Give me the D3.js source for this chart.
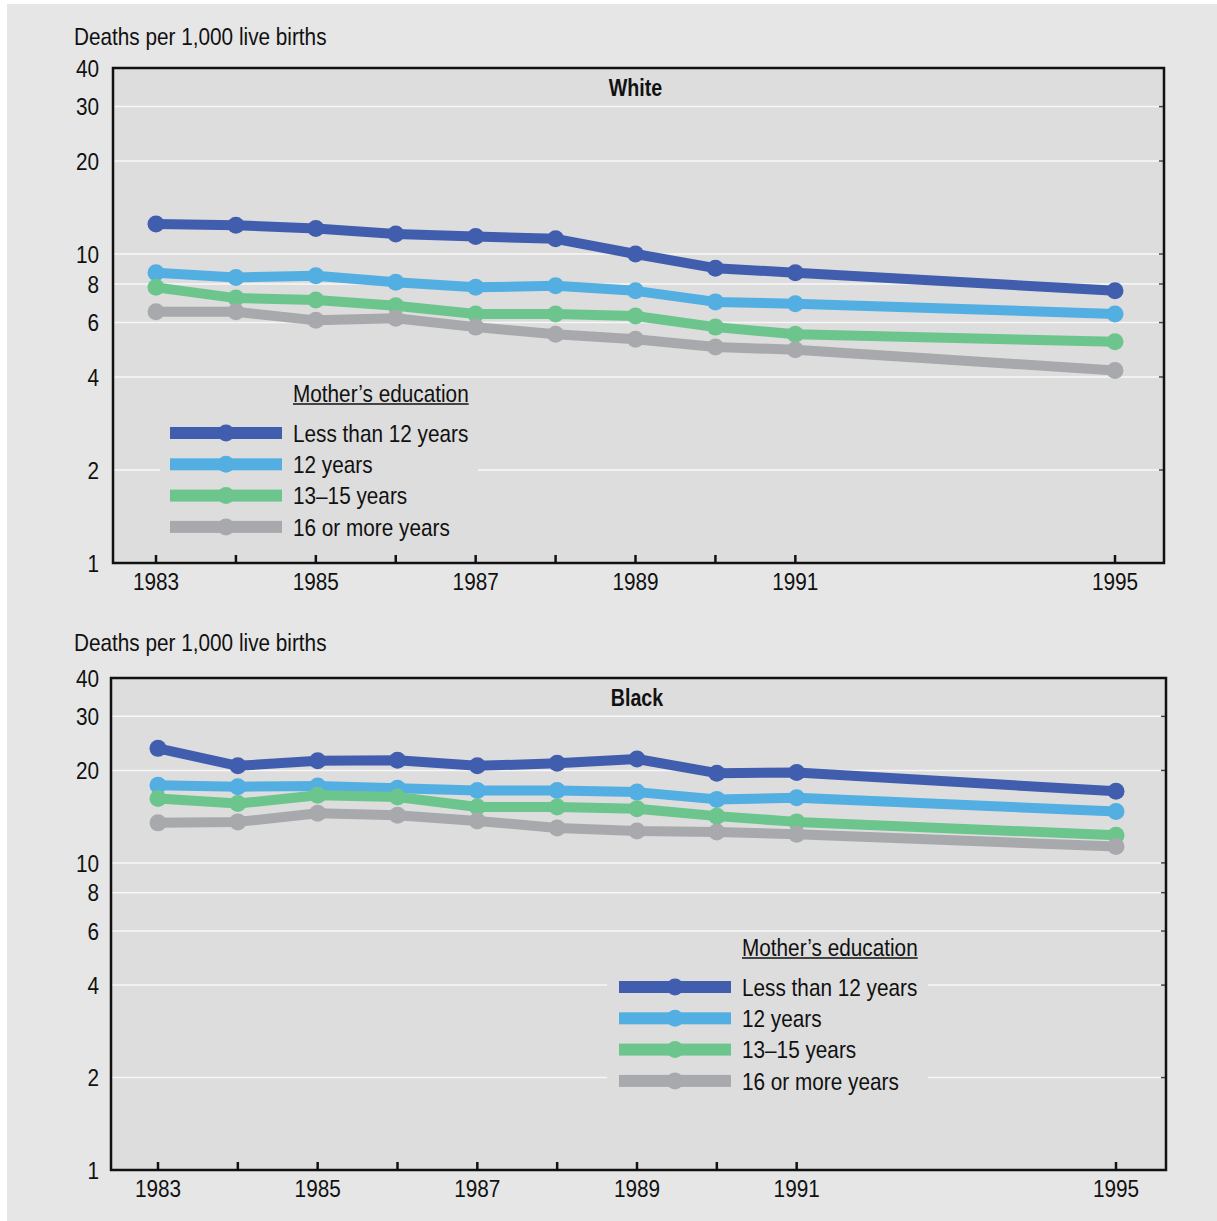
<!DOCTYPE html>
<html>
<head>
<meta charset="utf-8">
<script src="https://cdn.jsdelivr.net/npm/d3@7"></script>
<style>
  html, body { margin: 0; padding: 0; background: #ffffff; }
  svg { display: block; }
  text { font-family: "Liberation Sans", Arial, sans-serif; fill: #111; }
</style>
</head>
<body>
<div id="chart"></div>
<script>
// ---------- DATA ----------
const years = [1983, 1984, 1985, 1986, 1987, 1988, 1989, 1990, 1991, 1995];
const xTickValues = [1983, 1984, 1985, 1986, 1987, 1988, 1989, 1990, 1991, 1995];
const xTickLabels = [1983, 1985, 1987, 1989, 1991, 1995];
const yTickLabels = [1, 2, 4, 6, 8, 10, 20, 30, 40];
const yGridValues = [2, 4, 6, 8, 10, 20, 30];
const yDomain = [1, 40];
const seriesNames = ["Less than 12 years", "12 years", "13\u201315 years", "16 or more years"];
const seriesColors = ["#415DAE", "#53AFE1", "#6DC58E", "#A8A9AC"];
const panelTitles = ["White", "Black"];
const yAxisTitle = "Deaths per 1,000 live births";
const legendTitle = "Mother\u2019s education";

const whiteLess12 = [12.5, 12.4, 12.1, 11.6, 11.4, 11.2, 10.0, 9.0, 8.7, 7.6];
const white12     = [8.7, 8.4, 8.5, 8.1, 7.8, 7.9, 7.6, 7.0, 6.9, 6.4];
const white1315   = [7.8, 7.2, 7.1, 6.8, 6.4, 6.4, 6.3, 5.8, 5.5, 5.2];
const white16     = [6.5, 6.5, 6.1, 6.2, 5.8, 5.5, 5.3, 5.0, 4.9, 4.2];

const blackLess12 = [23.6, 20.7, 21.5, 21.6, 20.7, 21.1, 21.8, 19.6, 19.7, 17.1];
const black12     = [17.9, 17.7, 17.8, 17.5, 17.2, 17.2, 17.0, 16.1, 16.3, 14.7];
const black1315   = [16.2, 15.6, 16.6, 16.4, 15.2, 15.2, 15.0, 14.2, 13.6, 12.3];
const black16     = [13.5, 13.6, 14.5, 14.3, 13.7, 13.0, 12.7, 12.6, 12.4, 11.3];

// ---------- LAYOUT ----------
const W = 1217, H = 1221;
const panels = [
  { title: panelTitles[0], series: [whiteLess12, white12, white1315, white16],
    frame: { l: 113, r: 1164, t: 68, b: 563 }, xr: [156, 1115], yTitleY: 45,
    legend: { x: 170, y: 433, boxX: 160, boxY: 381, boxW: 318, boxH: 164 } },
  { title: panelTitles[1], series: [blackLess12, black12, black1315, black16],
    frame: { l: 111, r: 1166, t: 678, b: 1170 }, xr: [158, 1116], yTitleY: 651,
    legend: { x: 619, y: 987, boxX: 607, boxY: 937, boxW: 321, boxH: 163 } }
];

const FS = 24, SX = 0.865, SXB = 0.82;
const plotBg = "#dddddd";

// condensed text helper: real text, horizontally scaled around its anchor
function addText(g, x, y, str, anchor, opts) {
  opts = opts || {};
  const t = g.append("text")
    .attr("transform", `translate(${x},${y}) scale(${opts.bold ? SXB : SX},1)`)
    .attr("text-anchor", anchor || "start")
    .attr("font-size", FS)
    .attr("dy", opts.dy || null)
    .text(str);
  if (opts.bold) t.attr("font-weight", "bold");
  return t;
}

const svg = d3.select("#chart").append("svg").attr("width", W).attr("height", H);
svg.append("rect").attr("x", 0).attr("y", 0).attr("width", W).attr("height", H).attr("fill", "#ffffff");
svg.append("rect").attr("x", 7).attr("y", 4).attr("width", W - 7).attr("height", H - 4).attr("fill", "#e6e6e6");

panels.forEach(p => {
  const f = p.frame;
  const g = svg.append("g");
  const x = d3.scaleLinear().domain([years[0], years[years.length - 1]]).range(p.xr);
  const y = d3.scaleLog().domain(yDomain).range([f.b, f.t]);

  // plot background
  g.append("rect").attr("x", f.l).attr("y", f.t).attr("width", f.r - f.l).attr("height", f.b - f.t)
    .attr("fill", plotBg);

  // gridlines
  g.selectAll("line.grid").data(yGridValues).join("line")
    .attr("x1", f.l).attr("x2", f.r)
    .attr("y1", d => y(d)).attr("y2", d => y(d))
    .attr("stroke", "#f7f7f7").attr("stroke-width", 1.5);
  // small right-edge ticks
  g.selectAll("line.rtick").data(yGridValues).join("line")
    .attr("x1", f.r - 5).attr("x2", f.r)
    .attr("y1", d => y(d)).attr("y2", d => y(d))
    .attr("stroke", "#444").attr("stroke-width", 1.5);

  // y tick labels
  yTickLabels.forEach(v => addText(g, 99, y(v), v, "end", { dy: "0.36em" }));

  // y axis title
  addText(g, 74, p.yTitleY, yAxisTitle, "start");

  // x ticks (inward)
  g.selectAll("line.xtick").data(xTickValues).join("line")
    .attr("x1", d => x(d)).attr("x2", d => x(d))
    .attr("y1", f.b).attr("y2", f.b - 8)
    .attr("stroke", "#111").attr("stroke-width", 2.5);
  xTickLabels.forEach(v => addText(g, x(v), f.b + 27, v, "middle"));

  // panel title
  addText(g, (p.xr[0] + p.xr[1]) / 2, f.t + 28, p.title, "middle", { bold: true });

  // legend background box (hides gridlines)
  const L = p.legend;
  g.append("rect").attr("x", L.boxX).attr("y", L.boxY).attr("width", L.boxW).attr("height", L.boxH)
    .attr("fill", plotBg);

  // series
  const line = d3.line().x((d, i) => x(years[i])).y(d => y(d));
  p.series.forEach((s, k) => {
    g.append("path").datum(s).attr("d", line)
      .attr("fill", "none").attr("stroke", seriesColors[k]).attr("stroke-width", 10)
      .attr("stroke-linejoin", "round");
    g.selectAll(null).data(s).join("circle")
      .attr("cx", (d, i) => x(years[i])).attr("cy", d => y(d)).attr("r", 8.5)
      .attr("fill", seriesColors[k]);
  });

  // legend
  const lt = addText(g, L.x + 123, L.y - 31, legendTitle, "start");
  const tw = lt.node().getComputedTextLength() * SX;
  g.append("line").attr("x1", L.x + 123).attr("x2", L.x + 123 + tw)
    .attr("y1", L.y - 29).attr("y2", L.y - 29).attr("stroke", "#111").attr("stroke-width", 1.6);

  seriesNames.forEach((name, k) => {
    const yy = L.y + k * 31.3;
    g.append("rect").attr("x", L.x).attr("y", yy - 6).attr("width", 112).attr("height", 12)
      .attr("fill", seriesColors[k]);
    g.append("circle").attr("cx", L.x + 56).attr("cy", yy).attr("r", 8.5).attr("fill", seriesColors[k]);
    addText(g, L.x + 123, yy, name, "start", { dy: "0.36em" });
  });

  // frame
  g.append("path")
    .attr("d", `M${f.l},${f.t}H${f.r}V${f.b}H${f.l}Z`)
    .attr("fill", "none").attr("stroke", "#111").attr("stroke-width", 2.5);
});
</script>
</body>
</html>
